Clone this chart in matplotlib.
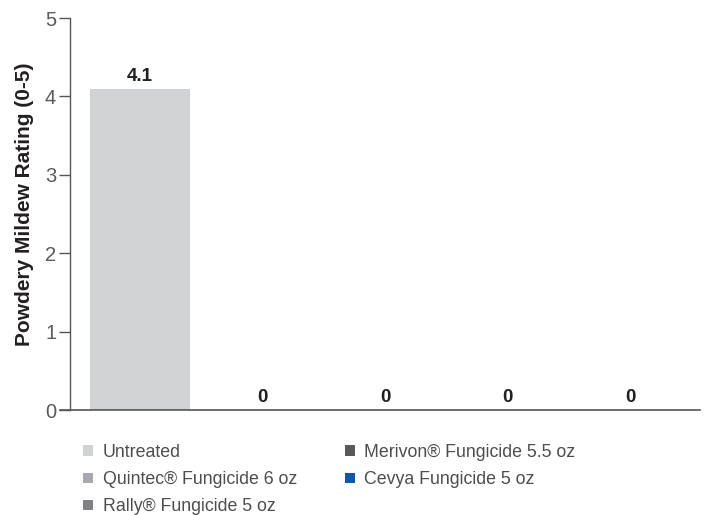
import matplotlib.pyplot as plt
from matplotlib.patches import Patch

plt.rcParams['font.family'] = ['Liberation Sans', 'DejaVu Sans']

treatments = ["Untreated", "Quintec\u00ae Fungicide 6 oz", "Rally\u00ae Fungicide 5 oz",
              "Merivon\u00ae Fungicide 5.5 oz", "Cevya Fungicide 5 oz"]
ratings = [4.1, 0, 0, 0, 0]
labels = ["4.1", "0", "0", "0", "0"]
colors = ["#d1d2d4", "#a7a9ac", "#808285", "#58595b", "#0b58a6"]

fig = plt.figure(figsize=(7.04, 5.15), dpi=100)
ax = fig.add_axes([60 / 704, 105 / 515, 640 / 704, 392 / 515])

x = range(len(treatments))
ax.bar(x, ratings, width=0.81, color=colors)
for i, v in enumerate(ratings):
    ax.text(i, v + 0.05, labels[i], ha="center", va="bottom",
            fontsize=13.5, fontweight="bold", color="#231f20")

ax.set_xlim(-0.653, 4.57)
ax.set_ylim(0, 5)
ax.spines['top'].set_visible(False)
ax.spines['right'].set_visible(False)
ax.spines['left'].set_position(('data', -0.571))
ax.spines['left'].set_color("#555555")
ax.spines['bottom'].set_color("#555555")
ax.spines['left'].set_linewidth(1.0)
ax.spines['bottom'].set_linewidth(1.2)
ax.set_xticks([])
ax.set_yticks([0, 1, 2, 3, 4, 5])
ax.tick_params(axis='y', length=8, width=1, color="#555555", labelsize=14.5,
               labelcolor="#5a5a5a", pad=2)
ax.get_yticklines()[2].set_color("#3a72b0")
ax.set_ylabel("Powdery Mildew Rating (0-5)", fontsize=15, fontweight="bold",
              color="#231f20", labelpad=8)
ax.yaxis.label.set_y(0.525)

handles = [Patch(facecolor=c, edgecolor="none") for c in colors]
fig.legend(handles, treatments, loc="upper left", bbox_to_anchor=(76 / 704, 1 - 437 / 515),
           ncol=2, frameon=False, fontsize=12.8, handlelength=0.55, handleheight=0.55,
           handletextpad=0.55, columnspacing=2.7, labelspacing=0.57, labelcolor="#4d4d4d",
           borderaxespad=0)

fig.savefig("out.png", dpi=100)
